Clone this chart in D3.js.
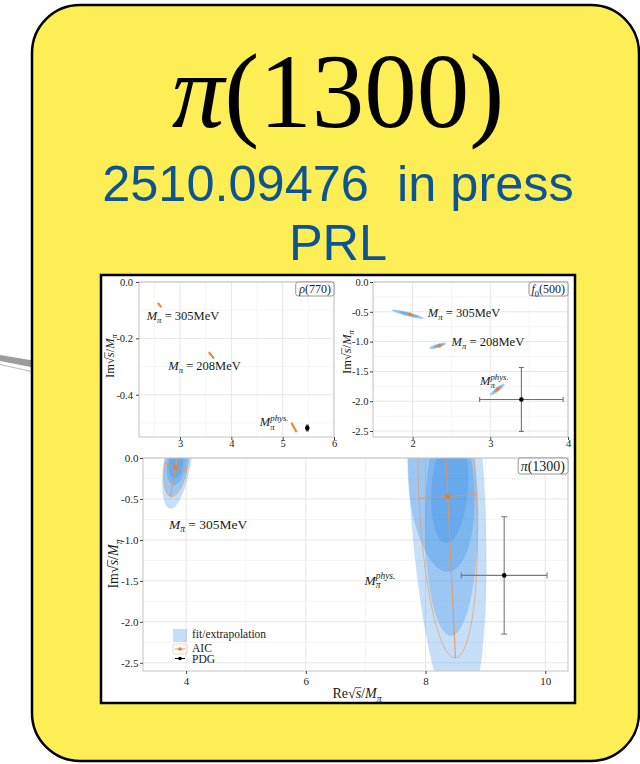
<!DOCTYPE html>
<html>
<head>
<meta charset="utf-8">
<script src="https://cdn.jsdelivr.net/npm/d3@7"></script>
<style>
  body { margin: 0; background: #fff; }
  svg { display: block; }
</style>
</head>
<body>
<svg id="card" width="640" height="764"></svg>
<script>
// ---------------------------------------------------------------
// Pole positions in units of the pion mass (Re√s/Mπ, Im√s/Mπ).
// Each region: centre c and principal half-axes u, v.
// ---------------------------------------------------------------

// ρ(770): AIC-averaged poles at Mπ = 305, 208 MeV and physical
const rhoAIC = [
  { c: [2.60, -0.082], u: [0.024, -0.0055], v: [-0.002, -0.0015] },
  { c: [3.61, -0.260], u: [0.040, -0.0090], v: [-0.002, -0.0015] },
  { c: [5.22, -0.516], u: [0.042, -0.0140], v: [-0.002, -0.0015] }
];
const rhoPDG = { x: 5.48, xErr: 0.02, y: -0.518, yErr: 0.010 };

// f0(500)
const f0Bands = [
  { c: [1.938, -0.540], u: [0.204, -0.070], v: [-0.007, -0.032] },
  { c: [1.950, -0.542], u: [0.120, -0.041], v: [-0.004, -0.019] },
  { c: [2.323, -1.070], u: [0.108,  0.042], v: [ 0.007, -0.032] },
  { c: [2.330, -1.070], u: [0.065,  0.025], v: [ 0.004, -0.019] },
  { c: [3.092, -1.804], u: [0.092,  0.092], v: [ 0.016, -0.027] },
  { c: [3.092, -1.800], u: [0.055,  0.055], v: [ 0.010, -0.016] }
];
const f0AIC = [
  { c: [1.966, -0.542], u: [0.050, -0.017], v: [-0.002, -0.010] },
  { c: [2.345, -1.069], u: [0.030,  0.012], v: [ 0.002, -0.010] },
  { c: [3.093, -1.795], u: [0.025,  0.025], v: [ 0.005, -0.009] }
];
const f0PDG = { x: 3.40, xErr: 0.537, y: -1.970, yErr: 0.537 };

// π(1300): nested fit/extrapolation regions and AIC average
const piBands = [
  { c: [3.86, -0.02], u: [0.23, 0], v: [-0.12, -0.60] },
  { c: [3.85, -0.05], u: [0.20, 0], v: [-0.10, -0.42] },
  { c: [3.84, -0.08], u: [0.16, 0], v: [-0.04, -0.25] },
  { c: [3.83, -0.08], u: [0.12, 0], v: [-0.02, -0.17] },
  { c: [8.350, -0.30], u: [0.630, 0], v: [ 0.22, -2.90] },
  { c: [8.435, -0.77], u: [0.445, 0], v: [-0.01, -1.40] },
  { c: [8.260, -0.29], u: [0.550, 0], v: [ 0.11, -1.10] },
  { c: [8.405, -0.37], u: [0.305, 0], v: [-0.06, -0.67] }
];
const piAIC = [
  { c: [3.825, -0.110], u: [0.18, -0.045], v: [-0.084, -0.358] },
  { c: [8.370, -0.470], u: [0.48,  0.025], v: [ 0.130, -1.970] }
];
const piPDG = { x: 9.314, xErr: 0.716, y: -1.433, yErr: 0.716 };

// Axis ticks
const rhoXTicks = [3, 4, 5, 6];
const rhoXMinor = [2.5, 3.5, 4.5, 5.5];
const rhoYTicks = [0, -0.2, -0.4];
const rhoYMinor = [-0.1, -0.3, -0.5];
const f0XTicks = [2, 3, 4];
const f0XMinor = [1.5, 2.5, 3.5];
const f0YTicks = [0, -0.5, -1, -1.5, -2, -2.5];
const f0YMinor = [-0.25, -0.75, -1.25, -1.75, -2.25];
const piXTicks = [4, 6, 8, 10];
const piXMinor = [5, 7, 9];
const piYTicks = [0, -0.5, -1, -1.5, -2, -2.5];
const piYMinor = [-0.25, -0.75, -1.25, -1.75, -2.25];

const legendItems = ["fit/extrapolation", "AIC", "PDG"];

// ---------------------------------------------------------------
const SERIF = "'Liberation Serif','Times New Roman',serif";
const SANS = "'Liberation Sans',Arial,sans-serif";
const BAND = "#2b8ae6";
const ORANGE = "#e99a62";
const svg = d3.select("#card");

// Text with italic parts, sub/superscripts and a radical bar
function mathText(parent, parts, size, attrs) {
  const t = parent.append("text")
    .attr("font-family", SERIF).attr("font-size", size).attr("fill", "#1a1a1a");
  Object.entries(attrs || {}).forEach(([k, v]) => t.attr(k, v));
  let shift = 0, lastSup = null;
  const overs = [];
  parts.forEach(p => {
    const s = t.append("tspan").text(p.t);
    if (p.it) s.attr("font-style", "italic");
    let target = 0;
    if (p.sub) target = 0.26 * size;
    if (p.sup) target = -0.42 * size;
    if (p.sub || p.sup) s.attr("font-size", size * 0.7);
    if (target !== shift) { s.attr("dy", target - shift); shift = target; }
    if (p.back && lastSup) s.attr("dx", -lastSup.node().getComputedTextLength());
    if (p.sup) lastSup = s;
    if (p.over) overs.push(s);
  });
  const y0 = +(t.attr("y") || 0);
  overs.forEach(s => {
    const e = s.node().getExtentOfChar(0);
    parent.append("line")
      .attr("x1", e.x - 0.02 * size).attr("x2", e.x + e.width + 0.02 * size)
      .attr("y1", y0 - 0.74 * size).attr("y2", y0 - 0.74 * size)
      .attr("stroke", "#1a1a1a").attr("stroke-width", size * 0.05);
  });
  return t;
}

const imTitle = [{ t: "Im" }, { t: "√" }, { t: "s", it: true, over: true }, { t: "/" }, { t: "M", it: true }, { t: "π", it: true, sub: true }];
const reTitle = [{ t: "Re" }, { t: "√" }, { t: "s", it: true, over: true }, { t: "/" }, { t: "M", it: true }, { t: "π", it: true, sub: true }];
const massLabel = m => [{ t: "M", it: true }, { t: "π", it: true, sub: true }, { t: " = " + m }];
const physLabel = [{ t: "M", it: true }, { t: "phys.", it: true, sup: true }, { t: "π", it: true, sub: true, back: true }];

function ellipsePath(e, x, y) {
  const pts = d3.range(121).map(i => {
    const t = 2 * Math.PI * i / 120;
    return [x(e.c[0] + e.u[0] * Math.cos(t) + e.v[0] * Math.sin(t)),
            y(e.c[1] + e.u[1] * Math.cos(t) + e.v[1] * Math.sin(t))];
  });
  return d3.line()(pts) + "Z";
}

// ---------------- card ----------------
svg.append("path").attr("d", "M0,355 L36,361 L36,368 L0,361 Z").attr("fill", "#9c9c9c");
svg.append("line").attr("x1", 0).attr("y1", 364.5).attr("x2", 36).attr("y2", 372.5)
  .attr("stroke", "#b0b0b0").attr("stroke-width", 0.9);
svg.append("rect").attr("x", 32).attr("y", 5).attr("width", 607).attr("height", 756)
  .attr("rx", 48).attr("fill", "#fdee55").attr("stroke", "#000").attr("stroke-width", 2.5);

const title = svg.append("text").attr("x", 338).attr("y", 127).attr("text-anchor", "middle")
  .attr("font-family", SERIF).attr("font-size", 105).attr("fill", "#000");
title.append("tspan").attr("font-style", "italic").text("π");
title.append("tspan").text("(1300)");

svg.append("text").attr("x", 338).attr("y", 201).attr("text-anchor", "middle")
  .attr("font-family", SANS).attr("font-size", 50.5).attr("fill", "#0d5592")
  .style("white-space", "pre").text("2510.09476  in press");
svg.append("text").attr("x", 338).attr("y", 260).attr("text-anchor", "middle")
  .attr("font-family", SANS).attr("font-size", 50.5).attr("fill", "#0d5592").text("PRL");

svg.append("rect").attr("x", 101).attr("y", 275).attr("width", 474).attr("height", 428)
  .attr("fill", "#fff").attr("stroke", "#000").attr("stroke-width", 2.5);

// ---------------- panels ----------------
function panel(p) {
  const x = d3.scaleLinear().domain(p.xDom).range([p.x0, p.x1]);
  const y = d3.scaleLinear().domain(p.yDom).range([p.y1, p.y0]);
  const g = svg.append("g");

  g.selectAll(null).data(p.xMinor).join("line")
    .attr("x1", d => x(d)).attr("x2", d => x(d)).attr("y1", p.y0).attr("y2", p.y1)
    .attr("stroke", "#f2f2f2").attr("stroke-width", 0.8);
  g.selectAll(null).data(p.yMinor).join("line")
    .attr("y1", d => y(d)).attr("y2", d => y(d)).attr("x1", p.x0).attr("x2", p.x1)
    .attr("stroke", "#f2f2f2").attr("stroke-width", 0.8);
  g.selectAll(null).data(p.xTicks).join("line")
    .attr("x1", d => x(d)).attr("x2", d => x(d)).attr("y1", p.y0).attr("y2", p.y1)
    .attr("stroke", "#e6e6e6").attr("stroke-width", 1);
  g.selectAll(null).data(p.yTicks).join("line")
    .attr("y1", d => y(d)).attr("y2", d => y(d)).attr("x1", p.x0).attr("x2", p.x1)
    .attr("stroke", "#e6e6e6").attr("stroke-width", 1);

  svg.append("clipPath").attr("id", "clip-" + p.id).append("rect")
    .attr("x", p.x0).attr("y", p.y0).attr("width", p.x1 - p.x0).attr("height", p.y1 - p.y0);
  const m = g.append("g").attr("clip-path", `url(#clip-${p.id})`);

  // fit/extrapolation regions
  m.selectAll(null).data(p.bands).join("path")
    .attr("d", e => ellipsePath(e, x, y))
    .attr("fill", BAND).attr("fill-opacity", p.bandAlpha);

  // AIC average
  p.aic.forEach(e => {
    const ends = k => [[x(e.c[0] - e[k][0]), y(e.c[1] - e[k][1])], [x(e.c[0] + e[k][0]), y(e.c[1] + e[k][1])]];
    if (p.streak) {
      m.append("path").attr("d", d3.line()(ends("u")))
        .attr("stroke", "#f08a34").attr("stroke-width", 2.2).attr("stroke-linecap", "round");
      return;
    }
    m.append("path").attr("d", ellipsePath(e, x, y)).attr("fill", "none")
      .attr("stroke", ORANGE).attr("stroke-opacity", 0.8).attr("stroke-width", 0.9);
    ["u", "v"].forEach(k => m.append("path").attr("d", d3.line()(ends(k)))
      .attr("stroke", "#e5935a").attr("stroke-opacity", 0.9).attr("stroke-width", 1.1));
    m.append("circle").attr("cx", x(e.c[0])).attr("cy", y(e.c[1])).attr("r", p.dotR).attr("fill", "#ef7d28");
  });

  // PDG
  const d = p.pdg, cap = p.cap;
  const pg = m.append("g").attr("stroke", p.pdgColor).attr("stroke-width", 1.1);
  pg.append("line").attr("x1", x(d.x - d.xErr)).attr("x2", x(d.x + d.xErr)).attr("y1", y(d.y)).attr("y2", y(d.y));
  pg.append("line").attr("y1", y(d.y - d.yErr)).attr("y2", y(d.y + d.yErr)).attr("x1", x(d.x)).attr("x2", x(d.x));
  if (cap > 0) {
    [d.x - d.xErr, d.x + d.xErr].forEach(v => pg.append("line")
      .attr("x1", x(v)).attr("x2", x(v)).attr("y1", y(d.y) - cap).attr("y2", y(d.y) + cap));
    [d.y - d.yErr, d.y + d.yErr].forEach(v => pg.append("line")
      .attr("y1", y(v)).attr("y2", y(v)).attr("x1", x(d.x) - cap).attr("x2", x(d.x) + cap));
  }
  m.append("circle").attr("cx", x(d.x)).attr("cy", y(d.y)).attr("r", 2.3).attr("fill", "#000");

  // frame
  g.append("rect").attr("x", p.x0).attr("y", p.y0).attr("width", p.x1 - p.x0).attr("height", p.y1 - p.y0)
    .attr("fill", "none").attr("stroke", "#c4c4c4").attr("stroke-width", 1);

  // axes
  const ax = g.append("g").attr("transform", `translate(0,${p.y1})`)
    .call(d3.axisBottom(x).tickValues(p.xTicks).tickSize(3).tickPadding(p.xPad).tickFormat(d3.format("d")));
  const ay = g.append("g").attr("transform", `translate(${p.x0},0)`)
    .call(d3.axisLeft(y).tickValues(p.yTicks).tickSize(3).tickPadding(p.yPad).tickFormat(v => v.toFixed(1)));
  [ax, ay].forEach(a => {
    a.select(".domain").remove();
    a.attr("font-family", SERIF).attr("font-size", p.tickFont);
    a.selectAll("line").attr("stroke", "#444");
    a.selectAll("text").attr("fill", "#222");
  });

  // y title
  const yt = g.append("g").attr("transform", `translate(${p.yTitle[0]},${p.yTitle[1]}) rotate(-90)`);
  mathText(yt, imTitle, p.titleFont, { x: 0, y: 0, "text-anchor": "middle" });

  // annotations
  p.labels.forEach(l => mathText(g, l.parts, p.labelFont, { x: x(l.x), y: y(l.y) }));

  // panel tag, top right
  const tg = g.append("g");
  const box = tg.append("rect");
  const tt = mathText(tg, p.tag, p.tagFont, { x: p.x1 - 3, y: p.y0 + p.tagFont * 0.95, "text-anchor": "end" });
  const bb = tt.node().getBBox();
  box.attr("x", bb.x - 2.5).attr("y", p.y0).attr("width", p.x1 - bb.x + 2.5).attr("height", p.tagH)
    .attr("rx", 2.5).attr("fill", "#fff").attr("stroke", "#8a8a8a").attr("stroke-width", 0.9);

  return { g, x, y };
}

panel({
  id: "rho", x0: 139, x1: 334, y0: 282, y1: 437, xDom: [2.2, 6], yDom: [-0.55, 0],
  xTicks: rhoXTicks, xMinor: rhoXMinor, yTicks: rhoYTicks, yMinor: rhoYMinor,
  bands: [], bandAlpha: 0.3, aic: rhoAIC, streak: true, dotR: 1.5,
  pdg: rhoPDG, pdgColor: "#222", cap: 1.5,
  xPad: 0, yPad: 3, tickFont: 10.5, titleFont: 12.5, labelFont: 12.5, yTitle: [114, 356],
  labels: [
    { x: 2.35, y: -0.135, parts: massLabel("305MeV") },
    { x: 2.77, y: -0.312, parts: massLabel("208MeV") },
    { x: 4.555, y: -0.512, parts: physLabel }
  ],
  tag: [{ t: "ρ", it: true }, { t: "(770)" }], tagFont: 12, tagH: 14
});

panel({
  id: "f0", x0: 373, x1: 568, y0: 282, y1: 437, xDom: [1.49, 4], yDom: [-2.6, 0],
  xTicks: f0XTicks, xMinor: f0XMinor, yTicks: f0YTicks, yMinor: f0YMinor,
  bands: f0Bands, bandAlpha: 0.45, aic: f0AIC, streak: false, dotR: 1.8,
  pdg: f0PDG, pdgColor: "#707070", cap: 2.5,
  xPad: 0, yPad: 1.5, tickFont: 10.5, titleFont: 12.5, labelFont: 12.5, yTitle: [351, 352],
  labels: [
    { x: 2.196, y: -0.587, parts: massLabel("305MeV") },
    { x: 2.502, y: -1.069, parts: massLabel("208MeV") },
    { x: 2.867, y: -1.728, parts: physLabel }
  ],
  tag: [{ t: "f", it: true }, { t: "0", sub: true }, { t: "(500)" }], tagFont: 12, tagH: 14
});

const pi = panel({
  id: "pi", x0: 143, x1: 568, y0: 458, y1: 671, xDom: [3.28, 10.38], yDom: [-2.6, 0],
  xTicks: piXTicks, xMinor: piXMinor, yTicks: piYTicks, yMinor: piYMinor,
  bands: piBands, bandAlpha: 0.27, aic: piAIC, streak: false, dotR: 2.6,
  pdg: piPDG, pdgColor: "#7a7a7a", cap: 3,
  xPad: 3, yPad: 1.5, tickFont: 11, titleFont: 14, labelFont: 13.5, yTitle: [118, 564],
  labels: [
    { x: 3.713, y: -0.862, parts: massLabel("305MeV") },
    { x: 6.98, y: -1.545, parts: physLabel }
  ],
  tag: [{ t: "π", it: true }, { t: "(1300)" }], tagFont: 14, tagH: 16
});

// x title of the lower panel
mathText(pi.g, reTitle, 14, { x: 357, y: 698, "text-anchor": "middle" });

// legend
const lg = pi.g.append("g").attr("font-family", SERIF).attr("font-size", 11.5).attr("fill", "#1a1a1a");
lg.append("rect").attr("x", 173).attr("y", 629).attr("width", 14).attr("height", 13)
  .attr("fill", BAND).attr("fill-opacity", 0.27);
lg.append("rect").attr("x", 173).attr("y", 644).attr("width", 14).attr("height", 10).attr("rx", 2)
  .attr("fill", "none").attr("stroke", "#f6cba6").attr("stroke-width", 0.8);
lg.append("line").attr("x1", 175).attr("x2", 185).attr("y1", 649).attr("y2", 649)
  .attr("stroke", ORANGE).attr("stroke-width", 1.1);
lg.append("circle").attr("cx", 180).attr("cy", 649).attr("r", 1.8).attr("fill", "#ef7d28");
lg.append("line").attr("x1", 175).attr("x2", 185).attr("y1", 658.5).attr("y2", 658.5)
  .attr("stroke", "#111").attr("stroke-width", 1.1);
lg.append("circle").attr("cx", 180).attr("cy", 658.5).attr("r", 1.8).attr("fill", "#000");
lg.selectAll(null).data(legendItems).join("text")
  .attr("x", 192).attr("y", (d, i) => [638, 651.5, 662.5][i]).text(d => d);
</script>
</body>
</html>
